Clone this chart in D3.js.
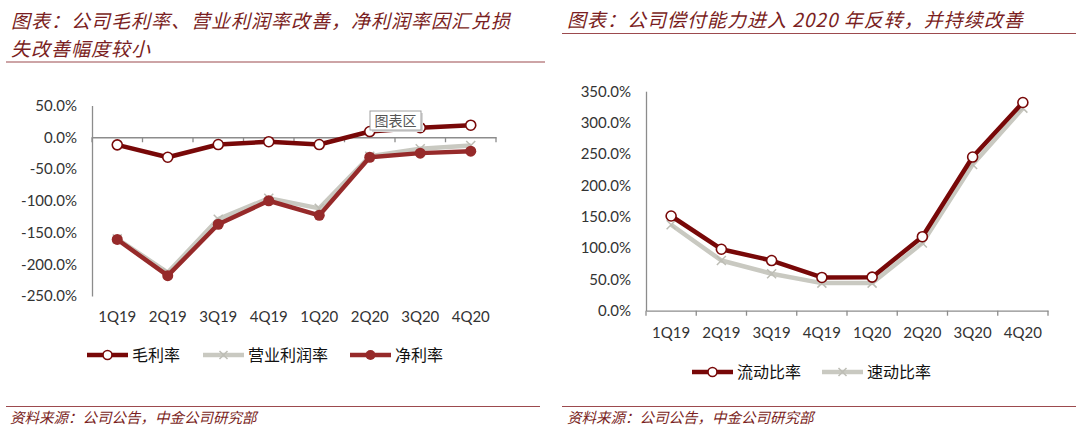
<!DOCTYPE html>
<html><head><meta charset="utf-8">
<script src="https://cdn.jsdelivr.net/npm/d3@7"></script>
<style>
html,body{margin:0;padding:0;background:#fff;}
svg{display:block;}
</style></head>
<body>
<svg id="c" width="1080" height="433"></svg>
<script>
// ---------- data ----------
const categories = ['1Q19','2Q19','3Q19','4Q19','1Q20','2Q20','3Q20','4Q20'];
const grossMargin = [-12, -31.5, -11.5, -7, -11.5, 9, 15, 19];
const opMargin    = [-160, -213, -129, -96, -112, -30, -18, -13];
const netMargin   = [-161, -218, -137, -100, -123, -31.5, -25, -22];
const leftTicks   = [50, 0, -50, -100, -150, -200, -250];
const currentRatio = [151, 98, 80, 53, 53.5, 118, 245, 332];
const quickRatio   = [137, 80, 59, 44, 44, 108, 233, 323];
const rightTicks   = [0, 50, 100, 150, 200, 250, 300, 350];
const leftTitle1 = '图表：公司毛利率、营业利润率改善，净利润率因汇兑损';
const leftTitle2 = '失改善幅度较小';
const rightTitle = '图表：公司偿付能力进入 2020 年反转，并持续改善';
const sourceText = '资料来源：公司公告，中金公司研究部';
const leftSeries = ['毛利率','营业利润率','净利率'];
const rightSeries = ['流动比率','速动比率'];

// ---------- styles ----------
const DARK = '#780808', GRAY = '#c9c9c1', RED = '#962a2a', TITLE = '#7a1e22', RULE = '#9c4a4e';
const CJK = '"Noto Sans CJK SC", sans-serif';
const NUM = 'Lato, "Liberation Sans", sans-serif';
const fmt = d => d.toFixed(1) + '%';

const svg = d3.select('#c');

function header(g, lines, x, ys, ruleY, x1, x2){
  lines.forEach((t,i)=>{
    g.append('text').attr('x',x).attr('y',ys[i]).text(t)
     .attr('font-family',CJK).attr('font-size',19).attr('font-style','italic')
     .attr('letter-spacing',1).attr('fill',TITLE);
  });
  g.append('line').attr('x1',x1).attr('x2',x2).attr('y1',ruleY).attr('y2',ruleY)
   .attr('stroke',RULE).attr('stroke-width',1.2);
}
function footer(g, x, y, ruleY, x1, x2){
  g.append('line').attr('x1',x1).attr('x2',x2).attr('y1',ruleY).attr('y2',ruleY)
   .attr('stroke',RULE).attr('stroke-width',1.2);
  g.append('text').attr('x',x).attr('y',y).text(sourceText)
   .attr('font-family',CJK).attr('font-size',14.5).attr('font-style','italic')
   .attr('fill',TITLE);
}

function xMarker(sel, x, y, s, color){
  sel.append('path').attr('d',`M${x-s},${y-s}L${x+s},${y+s}M${x-s},${y+s}L${x+s},${y-s}`)
    .attr('stroke',color).attr('stroke-width',1.5).attr('fill','none');
}

function drawChart(opt){
  const g = svg.append('g');
  const x = d3.scaleBand().domain(categories).range(opt.xr);
  const y = d3.scaleLinear().domain(opt.yd).range(opt.yr);
  const cx = c => x(c) + x.bandwidth()/2;
  // y axis
  const ya = g.append('g').attr('transform',`translate(${opt.xr[0]},0)`)
    .call(d3.axisLeft(y).tickValues(opt.ticks).tickSize(0).tickSizeOuter(0).tickPadding(15).tickFormat(fmt));
  ya.select('.domain').attr('stroke','#8c8c8c').attr('stroke-width',1.3);
  ya.selectAll('text').attr('font-family',NUM).attr('font-size',15).attr('fill','#333');
  // x axis line at zero
  const y0 = y(0);
  const xa = g.append('g').attr('transform',`translate(0,${y0})`)
    .call(d3.axisBottom(x).tickSize(0).tickSizeOuter(0).tickFormat(''));
  xa.select('.domain').attr('stroke','#8c8c8c').attr('stroke-width',1.3);
  const bounds = categories.map(c=>x(c)).concat([x(categories[categories.length-1])+x.bandwidth()]);
  g.selectAll('.bt').data(bounds).enter().append('line')
    .attr('x1',d=>d).attr('x2',d=>d).attr('y1',y0).attr('y2',y0+5)
    .attr('stroke','#8c8c8c').attr('stroke-width',1.3);
  // category labels
  const la = g.append('g').attr('transform',`translate(0,${opt.labelY})`)
    .call(d3.axisBottom(x).tickSize(0).tickPadding(0));
  la.select('.domain').remove();
  la.selectAll('text').attr('font-family',NUM).attr('font-size',15).attr('fill','#333')
    .attr('dy','0.35em');
  // series
  const line = d3.line().x((d,i)=>cx(categories[i])).y(d=>y(d));
  opt.series.forEach(s=>{
    g.append('path').datum(s.values).attr('d',line).attr('fill','none')
      .attr('stroke',s.color).attr('stroke-width',4.5).attr('stroke-linejoin','round');
    s.values.forEach((v,i)=>{
      const px = cx(categories[i]), py = y(v);
      if(s.marker==='open') g.append('circle').attr('cx',px).attr('cy',py).attr('r',5)
        .attr('fill','#fff').attr('stroke',s.color).attr('stroke-width',1.6);
      else if(s.marker==='fill') g.append('circle').attr('cx',px).attr('cy',py).attr('r',5.5)
        .attr('fill',s.color);
      else xMarker(g,px,py,4.5,'#bdbdb5');
    });
  });
  // legend
  opt.legend.forEach(l=>{
    const s = opt.series.find(q=>q.name===l.name);
    g.append('line').attr('x1',l.x).attr('x2',l.x+41).attr('y1',opt.legendY).attr('y2',opt.legendY)
      .attr('stroke',s.color).attr('stroke-width',4.5);
    const mx = l.x+20.5;
    if(s.marker==='open') g.append('circle').attr('cx',mx).attr('cy',opt.legendY).attr('r',4.5)
        .attr('fill','#fff').attr('stroke',s.color).attr('stroke-width',1.6);
    else if(s.marker==='fill') g.append('circle').attr('cx',mx).attr('cy',opt.legendY).attr('r',5)
        .attr('fill',s.color);
    else xMarker(g,mx,opt.legendY,4,'#bdbdb5');
    g.append('text').attr('x',l.x+45).attr('y',opt.legendY).attr('dy','0.36em').text(l.name)
      .attr('font-family',CJK).attr('font-size',16).attr('fill','#111');
  });
  return {g,x,y};
}

// ---------- left panel ----------
header(svg.append('g'), [leftTitle1, leftTitle2], 11, [28, 56], 62, 6, 545);
drawChart({
  xr:[92,496], yd:[-250,50], yr:[296,105.5], ticks:leftTicks, labelY:317,
  series:[
    {name:leftSeries[0], values:grossMargin, color:DARK, marker:'open'},
    {name:leftSeries[1], values:opMargin, color:GRAY, marker:'x'},
    {name:leftSeries[2], values:netMargin, color:RED, marker:'fill'}
  ],
  legendY:355,
  legend:[{name:leftSeries[0],x:87},{name:leftSeries[1],x:203},{name:leftSeries[2],x:350}]
});
// "图表区" hover box
const tip = svg.append('g');
tip.append('rect').attr('x',372).attr('y',113).attr('width',51).attr('height',19).attr('fill','#d8d8d8');
tip.append('rect').attr('x',370).attr('y',111).attr('width',51).attr('height',19)
   .attr('fill','#fff').attr('stroke','#a0a0a0').attr('stroke-width',1);
tip.append('text').attr('x',395.5).attr('y',120.5).attr('dy','0.36em').attr('text-anchor','middle')
   .text('图表区').attr('font-family',CJK).attr('font-size',14).attr('fill','#555');
footer(svg.append('g'), 10, 423, 406.5, 6, 540);

// ---------- right panel ----------
header(svg.append('g'), [rightTitle], 567, [27], 33.5, 562, 1076);
drawChart({
  xr:[646,1048], yd:[0,350], yr:[310.7,91.2], ticks:rightTicks, labelY:333,
  series:[
    {name:rightSeries[1], values:quickRatio, color:GRAY, marker:'x'},
    {name:rightSeries[0], values:currentRatio, color:DARK, marker:'open'}
  ],
  legendY:372,
  legend:[{name:rightSeries[0],x:692},{name:rightSeries[1],x:822}]
});
footer(svg.append('g'), 567, 423, 406.5, 562, 1076);
</script>
</body></html>
